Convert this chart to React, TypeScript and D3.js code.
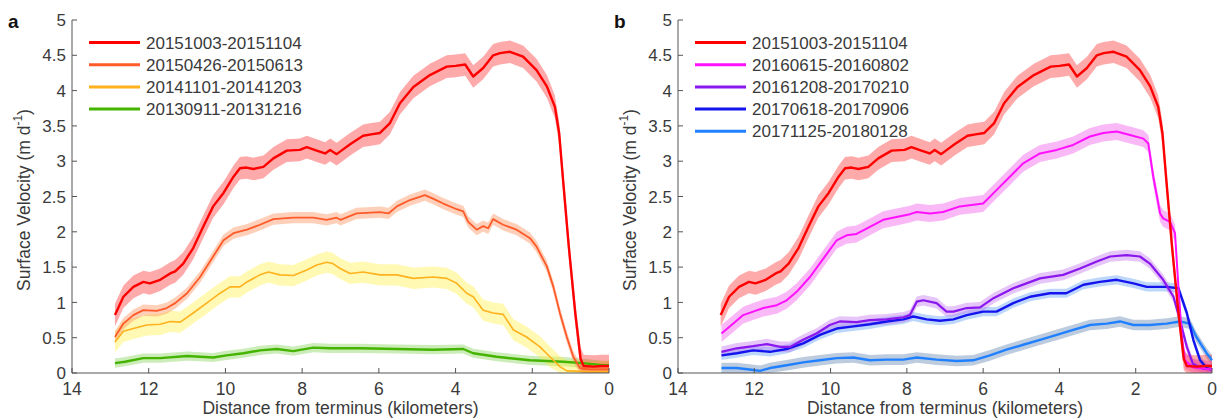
import React from "react";
import * as d3 from "d3";

type Pt = [number, number];

// ---- tick labels ----
const xTicks = [14, 12, 10, 8, 6, 4, 2, 0];
const yTicks = [0, 0.5, 1, 1.5, 2, 2.5, 3, 3.5, 4, 4.5, 5];

// ---- series (distance from terminus km, surface velocity m/d) ----
const s20151003: Pt[] = [
  [12.88, 0.82], [12.66, 1.08], [12.4, 1.22], [12.14, 1.29], [11.97, 1.27], [11.7, 1.32], [11.44, 1.41],
  [11.31, 1.44], [11.1, 1.55], [10.84, 1.77], [10.58, 2.07], [10.32, 2.36], [10.05, 2.55], [9.79, 2.78],
  [9.62, 2.9], [9.45, 2.91], [9.27, 2.89], [9.01, 2.92], [8.75, 3.04], [8.4, 3.15], [8.06, 3.16], [7.88, 3.2],
  [7.62, 3.15], [7.4, 3.11], [7.27, 3.16], [7.1, 3.1], [6.95, 3.16], [6.75, 3.24], [6.41, 3.36], [6.2, 3.38],
  [5.97, 3.4], [5.71, 3.54], [5.45, 3.82], [5.1, 4.05], [4.67, 4.22], [4.23, 4.34], [4.0, 4.35], [3.75, 4.37],
  [3.54, 4.2], [3.28, 4.32], [3.02, 4.5], [2.84, 4.53], [2.58, 4.55], [2.24, 4.48], [1.89, 4.29], [1.62, 4.06],
  [1.41, 3.77], [1.3, 3.4], [1.2, 2.75], [1.05, 1.8], [0.88, 0.85], [0.74, 0.2], [0.66, 0.1], [0.4, 0.09],
  [0.2, 0.1], [0.0, 0.1],
];
const s20150426: Pt[] = [
  [12.88, 0.51], [12.66, 0.7], [12.4, 0.82], [12.14, 0.89], [11.79, 0.88], [11.53, 0.92], [11.31, 0.99],
  [11.0, 1.13], [10.66, 1.36], [10.32, 1.65], [10.05, 1.88], [9.79, 1.98], [9.44, 2.03], [9.1, 2.1],
  [8.75, 2.18], [8.23, 2.2], [7.71, 2.2], [7.36, 2.17], [7.1, 2.2], [7.0, 2.17], [6.58, 2.26], [5.97, 2.28],
  [5.75, 2.26], [5.53, 2.36], [5.19, 2.45], [4.8, 2.52], [4.59, 2.47], [4.32, 2.4], [3.97, 2.32], [3.8, 2.29],
  [3.67, 2.14], [3.45, 2.03], [3.28, 2.08], [3.15, 2.05], [3.02, 2.18], [2.76, 2.1], [2.41, 2.03], [2.06, 1.91],
  [1.89, 1.79], [1.62, 1.51], [1.45, 1.22], [1.28, 0.85], [1.1, 0.51], [0.93, 0.23], [0.76, 0.07], [0.5, 0.05],
  [0.0, 0.05],
];
const s20141101: Pt[] = [
  [12.88, 0.44], [12.66, 0.59], [12.4, 0.63], [12.05, 0.68], [11.7, 0.69], [11.44, 0.73], [11.18, 0.72],
  [10.84, 0.85], [10.49, 0.99], [10.14, 1.13], [9.88, 1.22], [9.62, 1.22], [9.44, 1.29], [9.1, 1.39],
  [8.88, 1.43], [8.58, 1.39], [8.23, 1.38], [7.88, 1.46], [7.62, 1.53], [7.36, 1.57], [7.2, 1.55], [7.01, 1.48],
  [6.75, 1.41], [6.41, 1.43], [5.97, 1.39], [5.53, 1.39], [5.1, 1.34], [4.59, 1.36], [4.23, 1.34], [3.97, 1.27],
  [3.71, 1.13], [3.54, 1.08], [3.28, 0.89], [3.02, 0.85], [2.76, 0.83], [2.49, 0.61], [2.15, 0.51], [1.8, 0.37],
  [1.54, 0.23], [1.28, 0.09], [1.1, 0.03], [0.5, 0.02], [0.0, 0.02],
];
const s20130911: Pt[] = [
  [12.88, 0.14], [12.62, 0.16], [12.14, 0.21], [11.7, 0.21], [11.0, 0.24], [10.66, 0.23], [10.32, 0.22],
  [9.97, 0.25], [9.53, 0.28], [9.1, 0.32], [8.66, 0.34], [8.23, 0.31], [7.71, 0.36], [7.27, 0.35], [6.5, 0.35],
  [5.53, 0.34], [4.6, 0.33], [3.8, 0.34], [3.54, 0.28], [2.93, 0.23], [2.06, 0.18], [1.19, 0.16], [0.68, 0.14],
  [0.17, 0.11], [0.0, 0.11],
];
const s20160615: Pt[] = [
  [12.86, 0.56], [12.55, 0.7], [12.29, 0.82], [12.03, 0.87], [11.76, 0.92], [11.41, 0.96], [11.15, 1.03],
  [10.89, 1.15], [10.54, 1.36], [10.19, 1.62], [9.84, 1.88], [9.58, 1.95], [9.32, 1.97], [8.97, 2.07],
  [8.62, 2.17], [8.27, 2.21], [7.92, 2.25], [7.74, 2.28], [7.39, 2.26], [7.05, 2.28], [6.61, 2.36], [6.0, 2.4],
  [5.65, 2.59], [5.3, 2.78], [4.95, 2.97], [4.51, 3.11], [4.07, 3.16], [3.64, 3.23], [3.2, 3.35], [2.85, 3.4],
  [2.5, 3.42], [2.15, 3.37], [1.8, 3.32], [1.67, 3.25], [1.54, 2.78], [1.36, 2.26], [1.28, 2.19], [1.1, 2.14],
  [0.97, 1.98], [0.88, 1.22], [0.79, 0.51], [0.71, 0.18], [0.5, 0.08], [0.0, 0.05],
];
const s20161208: Pt[] = [
  [12.86, 0.3], [12.46, 0.35], [12.03, 0.38], [11.67, 0.41], [11.32, 0.37], [11.06, 0.37], [10.72, 0.47],
  [10.37, 0.56], [10.02, 0.68], [9.76, 0.73], [9.32, 0.72], [8.97, 0.75], [8.53, 0.76], [8.09, 0.79],
  [7.92, 0.82], [7.74, 1.01], [7.57, 1.03], [7.22, 0.99], [6.96, 0.87], [6.78, 0.87], [6.43, 0.92], [6.08, 0.93],
  [5.73, 1.06], [5.21, 1.2], [4.51, 1.34], [3.9, 1.39], [3.46, 1.48], [3.02, 1.58], [2.67, 1.65], [2.24, 1.67],
  [1.89, 1.65], [1.63, 1.55], [1.28, 1.32], [1.01, 1.08], [0.84, 0.75], [0.66, 0.37], [0.5, 0.13], [0.24, 0.06],
  [0.0, 0.05],
];
const s20170618: Pt[] = [
  [12.86, 0.25], [12.46, 0.28], [12.03, 0.32], [11.59, 0.3], [11.15, 0.34], [10.72, 0.42], [10.28, 0.54],
  [9.84, 0.63], [9.4, 0.66], [8.97, 0.69], [8.53, 0.73], [8.09, 0.76], [7.83, 0.8], [7.48, 0.76], [7.13, 0.74],
  [6.78, 0.76], [6.43, 0.82], [6.0, 0.87], [5.65, 0.87], [5.21, 0.99], [4.77, 1.08], [4.25, 1.13], [3.82, 1.13],
  [3.37, 1.25], [2.94, 1.29], [2.5, 1.32], [2.06, 1.27], [1.71, 1.22], [1.19, 1.22], [0.88, 1.2], [0.66, 0.85],
  [0.49, 0.47], [0.31, 0.18], [0.14, 0.07], [0.0, 0.05],
];
const s20171125: Pt[] = [
  [12.86, 0.07], [12.46, 0.07], [12.12, 0.05], [11.85, 0.03], [11.59, 0.07], [11.15, 0.11], [10.72, 0.15],
  [10.28, 0.18], [9.84, 0.21], [9.4, 0.22], [8.97, 0.18], [8.53, 0.19], [8.09, 0.19], [7.74, 0.22], [7.22, 0.19],
  [6.69, 0.17], [6.26, 0.18], [5.82, 0.25], [5.39, 0.33], [4.95, 0.4], [4.51, 0.47], [4.07, 0.54], [3.64, 0.61],
  [3.2, 0.68], [2.76, 0.7], [2.41, 0.73], [2.06, 0.68], [1.63, 0.68], [1.19, 0.7], [0.84, 0.73], [0.58, 0.7],
  [0.41, 0.51], [0.14, 0.28], [0.0, 0.18],
];

// ---- labels and half-widths of the shaded uncertainty ----
const labelsA = ["20151003-20151104", "20150426-20150613", "20141101-20141203", "20130911-20131216"];
const labelsB = ["20151003-20151104", "20160615-20160802", "20161208-20170210", "20170618-20170906", "20171125-20180128"];
const errA = [0.16, 0.08, 0.15, 0.065];
const errB = [0.16, 0.12, 0.075, 0.065, 0.075];

type Series = { label: string; data: Pt[]; err: number; line: string; band: string; width: number };

const seriesA: Series[] = [
  { label: labelsA[0], data: s20151003, err: errA[0], line: "#ff0000", band: "#ff2a2a", width: 2.4 },
  { label: labelsA[1], data: s20150426, err: errA[1], line: "#ff5a2a", band: "#ff8a50", width: 1.8 },
  { label: labelsA[2], data: s20141101, err: errA[2], line: "#ffb21e", band: "#fff040", width: 1.6 },
  { label: labelsA[3], data: s20130911, err: errA[3], line: "#44b400", band: "#7fd050", width: 2.4 },
];
const seriesB: Series[] = [
  { label: labelsB[0], data: s20151003, err: errB[0], line: "#ff0000", band: "#ff2a2a", width: 2.4 },
  { label: labelsB[1], data: s20160615, err: errB[1], line: "#ff10ff", band: "#f050e8", width: 2.0 },
  { label: labelsB[2], data: s20161208, err: errB[2], line: "#8a18ee", band: "#c070f0", width: 2.2 },
  { label: labelsB[3], data: s20170618, err: errB[3], line: "#1414ee", band: "#5a9cf5", width: 2.4 },
  { label: labelsB[4], data: s20171125, err: errB[4], line: "#2080ff", band: "#5a7cb0", width: 2.4 },
];

const FONT = "'Liberation Sans', Arial, Helvetica, sans-serif";
const TXT = "#3a3a3a";
const AX = "#555";

function Panel({ series, x0, x1, letter }: { series: Series[]; x0: number; x1: number; letter: string }) {
  const top = 20;
  const bottom = 373;
  const x = d3.scaleLinear().domain([14, 0]).range([x0, x1]);
  const y = d3.scaleLinear().domain([0, 5]).range([bottom, top]);
  const line = d3.line<Pt>().x((d) => x(d[0])).y((d) => y(d[1]));
  const area = (e: number) =>
    d3
      .area<Pt>()
      .x((d) => x(d[0]))
      .y0((d) => y(Math.max(0, d[1] - e)))
      .y1((d) => y(d[1] + e));
  const rev = [...series].reverse();
  const legX = x0 + 17;
  const legY0 = 42.5;
  const legStep = 22.2;
  return (
    <g>
      {rev.map((s, i) => (
        <path key={"b" + i} d={area(s.err)(s.data) || ""} fill={s.band} fillOpacity={0.4} stroke="none" />
      ))}
      {rev.map((s, i) => (
        <path key={"l" + i} d={line(s.data) || ""} fill="none" stroke={s.line} strokeWidth={s.width} strokeLinejoin="round" />
      ))}
      <line x1={x0} x2={x0} y1={top} y2={bottom} stroke={AX} strokeWidth={1} />
      <line x1={x0} x2={x1} y1={bottom} y2={bottom} stroke={AX} strokeWidth={1} />
      {yTicks.map((t) => (
        <g key={"yt" + t}>
          <line x1={x0} x2={x0 + 5} y1={y(t)} y2={y(t)} stroke={AX} />
          <text x={x0 - 6} y={y(t)} dy="0.36em" textAnchor="end" fontSize={17} fill={TXT} fontFamily={FONT}>
            {String(t)}
          </text>
        </g>
      ))}
      {xTicks.map((t) => (
        <g key={"xt" + t}>
          <line x1={x(t)} x2={x(t)} y1={bottom} y2={bottom - 5} stroke={AX} />
          <text x={x(t)} y={395} textAnchor="middle" fontSize={17.5} fill={TXT} fontFamily={FONT}>
            {String(t)}
          </text>
        </g>
      ))}
      <text x={(x0 + x1) / 2} y={414} textAnchor="middle" fontSize={17.5} fill={TXT} fontFamily={FONT}>
        Distance from terminus (kilometers)
      </text>
      <text
        transform={`translate(${x0 - 42},200) rotate(-90)`}
        textAnchor="middle"
        fontSize={17.5}
        fill={TXT}
        fontFamily={FONT}
      >
        Surface Velocity (m d
        <tspan fontSize={12} dy={-8}>-1</tspan>
        <tspan dy={8}>)</tspan>
      </text>
      <text x={x0 - 64} y={28} fontSize={19} fontWeight="bold" fill="#111" fontFamily={FONT}>
        {letter}
      </text>
      {series.map((s, i) => (
        <g key={"lg" + i}>
          <line x1={legX} x2={legX + 51} y1={legY0 + i * legStep} y2={legY0 + i * legStep} stroke={s.line} strokeWidth={3} />
          <text x={legX + 57} y={legY0 + i * legStep} dy="0.36em" fontSize={17} fill={TXT} fontFamily={FONT}>
            {s.label}
          </text>
        </g>
      ))}
    </g>
  );
}

export default function App() {
  return (
    <svg
      width={1217}
      height={419}
      style={{ position: "absolute", left: 0, top: 0, background: "#fff" }}
      xmlns="http://www.w3.org/2000/svg"
    >
      <rect width={1217} height={419} fill="#fff" />
      <Panel series={seriesA} x0={72} x1={609} letter="a" />
      <Panel series={seriesB} x0={678} x1={1212} letter="b" />
    </svg>
  );
}
